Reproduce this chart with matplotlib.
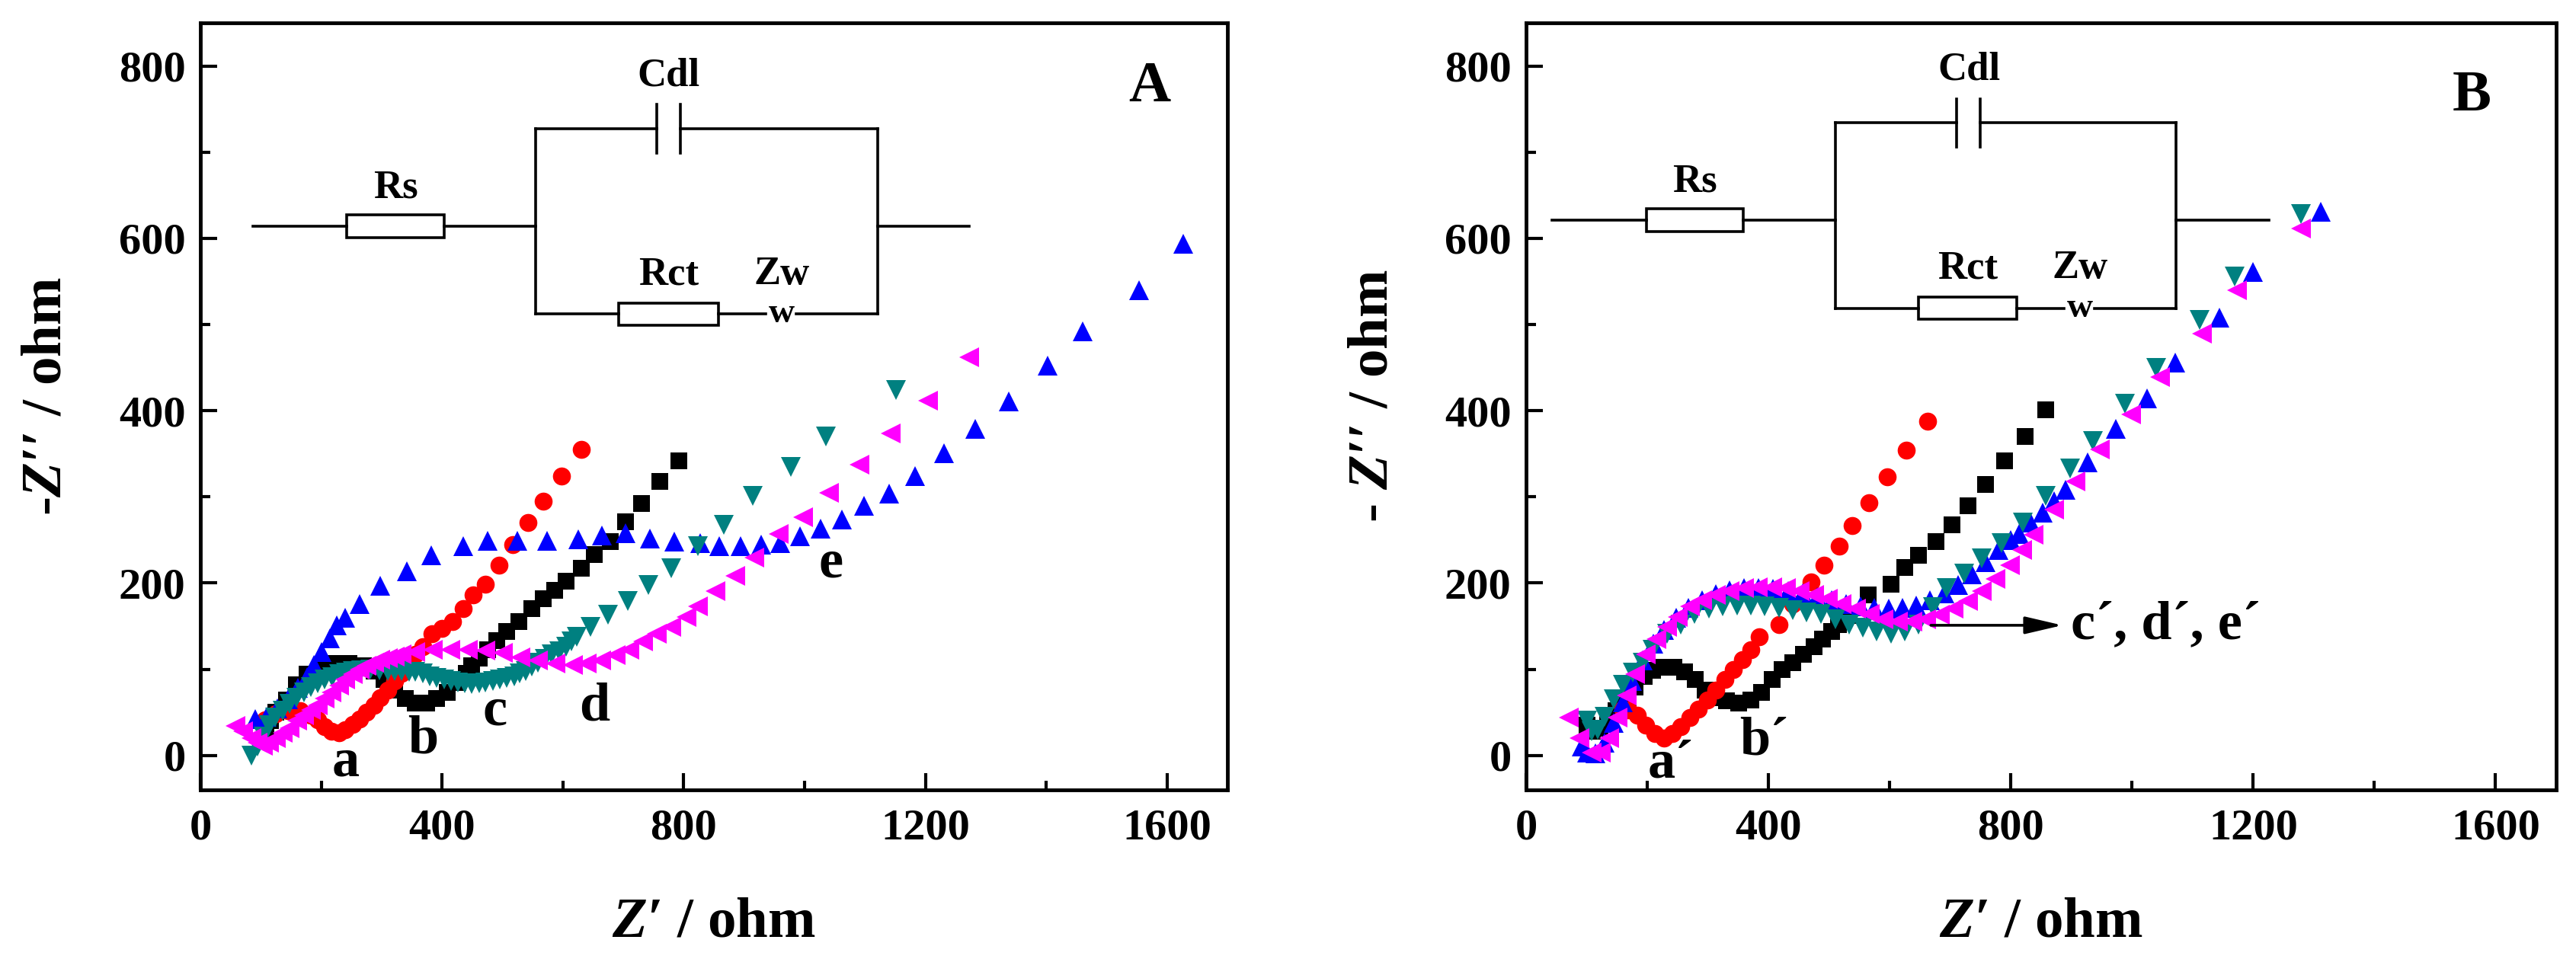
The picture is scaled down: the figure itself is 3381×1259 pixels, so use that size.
import matplotlib.pyplot as plt
from matplotlib.patches import Rectangle

plt.rcParams['font.family'] = ['Liberation Serif', 'DejaVu Serif']
plt.rcParams['font.weight'] = 'bold'
plt.rcParams['mathtext.fontset'] = 'custom'
plt.rcParams['mathtext.it'] = 'Liberation Serif:italic:bold'
plt.rcParams['mathtext.rm'] = 'Liberation Serif:bold'

# ---- panel A data (Z', -Z'') ----
A_a = [(107, 41), (125, 48), (145, 52), (165, 52), (183, 47), (194, 41), (206, 33), (217, 28),
       (229, 26), (240, 30), (252, 36), (264, 42), (275, 50), (287, 58), (298, 67), (310, 76),
       (322, 86), (333, 95), (345, 105), (356, 117), (368, 126), (384, 141), (400, 147),
       (417, 155), (435, 170), (452, 186), (472, 199), (494, 221), (517, 245), (542, 270),
       (568, 295), (598, 324), (630, 355)]
A_b = [(108, 28), (116, 40), (125, 50), (142, 64), (159, 82), (177, 94), (200, 104), (223, 107),
       (246, 107), (270, 104), (287, 98), (304, 88), (322, 76), (339, 66), (356, 61), (374, 61),
       (391, 66), (409, 73), (426, 85), (440, 95), (449, 104), (461, 113), (475, 123), (490, 133),
       (507, 144), (527, 155), (548, 170), (568, 182), (587, 192), (605, 202), (630, 217),
       (652, 233), (678, 248), (704, 271), (730, 292), (761, 318), (792, 342)]
A_c = [(85, 0), (95, 10), (105, 22), (113, 35), (124, 44), (136, 52), (147, 60), (159, 67),
       (171, 73), (183, 79), (194, 84), (206, 88), (218, 91), (229, 94), (241, 96), (252, 98),
       (266, 99), (281, 100), (296, 99), (310, 98), (322, 98), (333, 98), (345, 97), (356, 97),
       (368, 95), (380, 92), (391, 90), (403, 88), (415, 86), (426, 85), (438, 84), (449, 83),
       (461, 84), (472, 85), (484, 86), (495, 88), (507, 90), (519, 92), (529, 95), (539, 98),
       (549, 103), (559, 108), (570, 112), (582, 117), (594, 121), (605, 126), (614, 132),
       (623, 138), (646, 149), (675, 163), (707, 179), (742, 198), (779, 217), (823, 243),
       (866, 268), (914, 301), (978, 335), (1036, 370), (1151, 424)]
A_d = [(58, 34), (70, 28), (84, 20), (94, 15), (104, 11), (114, 15), (125, 20), (136, 26),
       (148, 32), (160, 40), (171, 47), (183, 53), (194, 58), (206, 66), (217, 73), (229, 81),
       (240, 88), (252, 94), (264, 100), (275, 104), (287, 108), (298, 111), (310, 113),
       (322, 115), (333, 117), (356, 120), (385, 123), (414, 123), (443, 123), (472, 122),
       (501, 119), (530, 114), (559, 110), (588, 107), (617, 105), (640, 107), (663, 110),
       (687, 116), (710, 123), (733, 132), (756, 141), (779, 149), (804, 161), (824, 173),
       (853, 191), (885, 208), (917, 230), (957, 257), (998, 276), (1041, 305), (1091, 337),
       (1143, 374), (1204, 412), (1273, 462)]
A_e = [(91, 42), (110, 45), (128, 55), (145, 65), (162, 78), (177, 91), (188, 105), (200, 120),
       (214, 136), (226, 151), (240, 160), (264, 176), (298, 197), (342, 214), (382, 232),
       (435, 243), (475, 249), (524, 249), (574, 249), (626, 251), (665, 255), (704, 258),
       (744, 252), (785, 248), (827, 246), (859, 243), (894, 243), (928, 245), (960, 246),
       (992, 254), (1027, 263), (1062, 274), (1099, 290), (1140, 304), (1183, 324), (1231, 351),
       (1282, 379), (1338, 411), (1402, 452), (1461, 492), (1554, 540), (1627, 594)]

# ---- panel B data ----
B_a = [(160, 54), (169, 53), (183, 47), (198, 35), (212, 25), (227, 20), (241, 25), (255, 33),
       (270, 44), (284, 54), (299, 64), (313, 76), (328, 88), (342, 100), (357, 111), (371, 123),
       (385, 138), (417, 152), (440, 176), (470, 201), (492, 221), (517, 243), (538, 267),
       (566, 293), (596, 323), (628, 354), (663, 388)]
B_b = [(100, 35), (110, 28), (122, 32), (135, 42), (148, 52), (160, 60), (169, 67), (180, 79),
       (195, 92), (209, 99), (227, 102), (244, 102), (261, 97), (279, 88), (296, 76), (313, 67),
       (331, 63), (351, 61), (371, 64), (388, 73), (406, 88), (423, 100), (440, 108), (458, 117),
       (475, 126), (489, 135), (504, 144), (515, 152), (532, 162), (564, 186), (602, 199),
       (625, 218), (648, 232), (677, 248), (703, 268), (729, 290), (758, 314), (790, 342),
       (824, 370), (858, 401)]
B_c = [(100, 40), (108, 28), (118, 30), (130, 45), (145, 65), (160, 82), (176, 96), (192, 108),
       (209, 123), (232, 141), (255, 152), (278, 164), (302, 170), (325, 173), (348, 174),
       (371, 174), (394, 173), (417, 171), (440, 169), (463, 166), (486, 164), (510, 158),
       (533, 152), (556, 148), (579, 144), (602, 141), (625, 144), (648, 152), (671, 172),
       (694, 194), (723, 211), (752, 229), (784, 246), (820, 270), (858, 301), (898, 333),
       (936, 365), (988, 408), (1040, 450), (1112, 505), (1170, 556), (1279, 628)]
B_d = [(71, 44), (88, 20), (108, 3), (123, 3), (137, 20), (151, 44), (166, 70), (180, 94),
       (198, 117), (215, 135), (232, 149), (250, 161), (270, 173), (290, 180), (313, 186),
       (336, 191), (359, 194), (382, 195), (406, 195), (429, 194), (452, 191), (475, 186),
       (498, 182), (521, 176), (544, 170), (567, 164), (590, 158), (614, 155), (637, 155),
       (660, 158), (683, 163), (706, 170), (729, 179), (752, 191), (775, 205), (798, 221),
       (818, 238), (838, 256), (872, 285), (907, 318), (947, 355), (999, 396), (1046, 439),
       (1115, 489), (1173, 540), (1279, 611)]
B_e = [(92, 10), (100, 3), (115, 2), (130, 15), (145, 38), (160, 62), (175, 86), (192, 110),
       (210, 130), (228, 146), (248, 160), (268, 171), (290, 180), (313, 187), (336, 192),
       (360, 194), (384, 194), (408, 193), (432, 191), (456, 188), (480, 184), (504, 180),
       (528, 176), (552, 173), (575, 171), (598, 170), (621, 171), (644, 174), (667, 180),
       (690, 188), (713, 198), (736, 210), (758, 224), (780, 238), (800, 250), (814, 257),
       (833, 270), (852, 282), (871, 295), (890, 308), (927, 340), (973, 379), (1025, 414),
       (1071, 456), (1144, 508), (1199, 561), (1311, 631)]

# curve labels: (text, x, y)
A_labels = [('a', 240, -24), ('b', 368, 3), ('c', 487, 36), ('d', 652, 41), ('e', 1044, 207)]
B_labels = [('a\u00b4', 238, -25), ('b\u00b4', 392, 1)]

# drawing order: black, red, blue, teal, magenta
styles = {
    'b': dict(marker='s', color='black', ms=16),
    'a': dict(marker='o', color='red', ms=17),
    'e': dict(marker='^', color='blue', ms=19),
    'c': dict(marker='v', color='#008080', ms=19),
    'd': dict(marker='<', color='magenta', ms=19),
}

W, H = 3381, 1259
fig = plt.figure(figsize=(W / 100, H / 100), dpi=100)
axA = fig.add_axes([263 / W, (H - 1037) / H, 1348 / W, 1007 / H])
axB = fig.add_axes([2003 / W, (H - 1037) / H, 1352 / W, 1007 / H])


def draw_series(ax, data):
    for key in ['b', 'a', 'e', 'c', 'd']:
        xs = [p[0] for p in data[key]]
        ys = [p[1] for p in data[key]]
        st = styles[key]
        ax.plot(xs, ys, linestyle='none', marker=st['marker'], color=st['color'],
                markersize=st['ms'], markeredgewidth=0)


def setup(ax):
    ax.set_xlim(0, 1700)
    ax.set_ylim(-40, 850)
    ax.set_xticks([0, 400, 800, 1200, 1600])
    ax.set_xticks([200, 600, 1000, 1400], minor=True)
    ax.set_yticks([0, 200, 400, 600, 800])
    ax.set_yticks([100, 300, 500, 700], minor=True)
    ax.tick_params(which='both', direction='in', top=False, right=False, width=3, labelsize=42)
    ax.tick_params(which='major', length=16)
    ax.tick_params(which='minor', length=9)
    ax.tick_params(axis='x', pad=18)
    ax.tick_params(axis='y', pad=14)
    for s in ax.spines.values():
        s.set_linewidth(3.5)


def circuit(ax, c):
    lw = 2.6
    y0 = c['y_main']
    h = 26
    xl, xr = c['x_par']
    yt, yb = c['y_top'], c['y_bot']
    # series line with Rs
    ax.plot([c['x_start'], c['rs'][0]], [y0, y0], 'k-', lw=lw)
    ax.plot([c['rs'][1], xl], [y0, y0], 'k-', lw=lw)
    ax.add_patch(Rectangle((c['rs'][0], y0 - h / 2), c['rs'][1] - c['rs'][0], h,
                           fc='white', ec='black', lw=lw))
    ax.plot([xr, c['x_end']], [y0, y0], 'k-', lw=lw)
    # parallel verticals
    ax.plot([xl, xl], [yb, yt], 'k-', lw=lw)
    ax.plot([xr, xr], [yb, yt], 'k-', lw=lw)
    # top branch with capacitor
    p1, p2 = c['cap']
    ax.plot([xl, p1], [yt, yt], 'k-', lw=lw)
    ax.plot([p2, xr], [yt, yt], 'k-', lw=lw)
    ax.plot([p1, p1], [yt - 28, yt + 28], 'k-', lw=lw)
    ax.plot([p2, p2], [yt - 28, yt + 28], 'k-', lw=lw)
    # bottom branch with Rct and Warburg
    r1, r2 = c['rct']
    ax.plot([xl, r1], [yb, yb], 'k-', lw=lw)
    ax.add_patch(Rectangle((r1, yb - h / 2), r2 - r1, h, fc='white', ec='black', lw=lw))
    ax.plot([r2, c['w'] - 26], [yb, yb], 'k-', lw=lw)
    ax.plot([c['w'] + 24, xr], [yb, yb], 'k-', lw=lw)
    ax.text(c['w'], yb, 'w', fontsize=34, ha='center', va='center')
    ax.text((p1 + p2) / 2, yt + 62, 'Cdl', fontsize=38, ha='center', va='center')
    ax.text((c['rs'][0] + c['rs'][1]) / 2, y0 + 45, 'Rs', fontsize=38, ha='center', va='center')
    ax.text((r1 + r2) / 2, yb + 46, 'Rct', fontsize=38, ha='center', va='center')
    ax.text(c['w'], yb + 46, 'Zw', fontsize=38, ha='center', va='center')


circA = dict(y_main=614, x_start=87, rs=(242, 404), x_par=(555, 1121), x_end=1273,
             y_top=727, y_bot=512, cap=(756, 794), rct=(692, 857), w=962)
circB = dict(y_main=621, x_start=43, rs=(199, 358), x_par=(511, 1073), x_end=1226,
             y_top=734, y_bot=519, cap=(711, 750), rct=(648, 810), w=914)

for ax, data, circ, labels, letter in [
        (axA, dict(a=A_a, b=A_b, c=A_c, d=A_d, e=A_e), circA, A_labels, ('A', 1571, 775)),
        (axB, dict(a=B_a, b=B_b, c=B_c, d=B_d, e=B_e), circB, B_labels, ('B', 1561, 765))]:
    setup(ax)
    draw_series(ax, data)
    circuit(ax, circ)
    for t, x, y in labels:
        ax.text(x, y, t, fontsize=52, ha='center', va='baseline')
    ax.text(letter[1], letter[2], letter[0], fontsize=55, ha='center', va='center')

# arrow pointing to c', d', e' in B
axB.annotate('', xy=(885, 151), xytext=(668, 151),
             arrowprops=dict(arrowstyle='-|>,head_length=1.2,head_width=0.28',
                             lw=2.6, color='black', mutation_scale=25, shrinkA=0, shrinkB=0))
axB.text(899, 136, 'c\u00b4, d\u00b4, e\u00b4', fontsize=52, ha='left', va='baseline')

# axis labels
fig.text(62 / W, 1 - 520 / H, "-$Z$\u2032\u2032 / ohm", rotation=90, fontsize=54,
         ha='center', va='center')
fig.text(1803 / W, 1 - 520 / H, "- $Z$\u2032\u2032 / ohm", rotation=90, fontsize=54,
         ha='center', va='center')
fig.text(937 / W, 1 - 1211 / H, "$Z$\u2032 / ohm", fontsize=54, ha='center', va='center')
fig.text(2679 / W, 1 - 1211 / H, "$Z$\u2032 / ohm", fontsize=54, ha='center', va='center')

fig.savefig('out.png', dpi=100, facecolor='white')
